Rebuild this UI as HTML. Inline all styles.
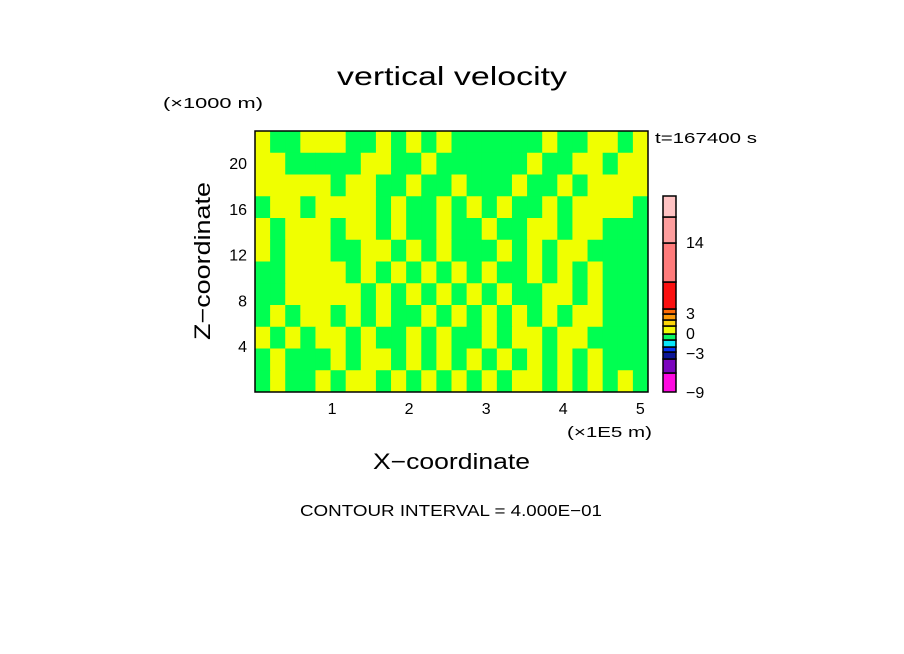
<!DOCTYPE html>
<html><head><meta charset="utf-8"><style>
html,body{margin:0;padding:0;background:#fff;width:904px;height:654px;overflow:hidden}
svg text{font-family:"Liberation Sans",sans-serif;fill:#000}
</style></head><body>
<svg id="chart" width="904" height="654" xmlns="http://www.w3.org/2000/svg">
<g id="field"></g>
<rect x="255" y="131" width="393" height="261" fill="none" stroke="#000" stroke-width="1.5"/>
<text x="337" y="85" font-size="26" textLength="230" lengthAdjust="spacingAndGlyphs">vertical velocity</text>
<text x="163" y="108" font-size="15" textLength="100" lengthAdjust="spacingAndGlyphs">(×1000 m)</text>
<text x="655" y="143" font-size="15" textLength="102" lengthAdjust="spacingAndGlyphs">t=167400 s</text>
<text x="567" y="437" font-size="15" textLength="85" lengthAdjust="spacingAndGlyphs">(×1E5 m)</text>
<text x="373" y="469" font-size="22" textLength="157" lengthAdjust="spacingAndGlyphs">X−coordinate</text>
<text transform="translate(210,340) rotate(-90)" font-size="22" textLength="158" lengthAdjust="spacingAndGlyphs">Z−coordinate</text>
<text x="300" y="516" font-size="16" textLength="302" lengthAdjust="spacingAndGlyphs">CONTOUR INTERVAL = 4.000E−01</text>
<g id="xticks"></g>
<g id="yticks"></g>
<g id="cbar"></g>
</svg>
<script>
const xTicks=[1,2,3,4,5];
const zTicks=[4,8,12,16,20];
const xMax=5.1, zMax=22.8;
// 1 = green (0..0.4 band), 0 = yellow (-0.4..0 band); rows top to bottom
const fieldRows=[
"01100011010101111110110010",
"00111110011011111101100100",
"00000100110110111011010000",
"10010000101101010110100001",
"01000100101101101100100111",
"01000110010101110101001111",
"11000010101010101101010111",
"11000001010101010110010111",
"10100101011010101010100111",
"01010010110101101001001111",
"10111010010101010101010111",
"10110100101010101001010101"];
const cbarColors=["#fe0ae0","#7b05bd","#0c1697","#0532f3","#0ae6fa","#0af864","#f0fb06","#fcd50a","#fc9b08","#fd6b05","#fb1010","#ff7b7b","#fe9e9e","#ffc3c3"];
const cbarLabels=[-9,-3,0,3,14];

const NS="http://www.w3.org/2000/svg";
const X0=255,X1=648,Y0=392,Y1=131;
const sx=v=>X0+v/xMax*(X1-X0);
const sz=v=>Y0-v/zMax*(Y0-Y1);
function mk(t,a,p){const e=document.createElementNS(NS,t);for(const k in a)e.setAttribute(k,a[k]);p.appendChild(e);return e;}
const field=document.getElementById('field');
const nr=fieldRows.length,nc=fieldRows[0].length;
fieldRows.forEach((row,i)=>{
  for(let j=0;j<nc;j++){
    const xa=j*xMax/nc,xb=(j+1)*xMax/nc,za=zMax-i*zMax/nr,zb=zMax-(i+1)*zMax/nr;
    const r=mk('rect',{x:sx(xa),y:sz(za),width:sx(xb)-sx(xa)+0.5,height:sz(zb)-sz(za)+0.5,fill:row[j]==='1'?'#00ff51':'#f0ff00'},field);
    
    
  }
});
const xt=document.getElementById('xticks');
xTicks.forEach(v=>{const t=mk('text',{x:sx(v),y:414,'font-size':16,'text-anchor':'middle'},xt);t.textContent=v;

});
const yt=document.getElementById('yticks');
zTicks.forEach(v=>{const t=mk('text',{x:247,y:sz(v)+6,'font-size':16,'text-anchor':'end'},yt);t.textContent=v;

});
const segPx=[19,14,7,5,7,6,8,6,6,5,27,39,26,21];
const cb=document.getElementById('cbar');
let y=392;
cbarColors.forEach((c,i)=>{const h=segPx[i];y-=h;
  const r=mk('rect',{x:663,y:y,width:13,height:h,fill:c,stroke:'#000','stroke-width':1.5},cb);
  
  });
const lblY=[392,353,333,313,242];
cbarLabels.forEach((v,i)=>{const t=mk('text',{x:686,y:lblY[i]+6,'font-size':16},cb);t.textContent=String(v).replace('-','−');

});
</script>
</body></html>
